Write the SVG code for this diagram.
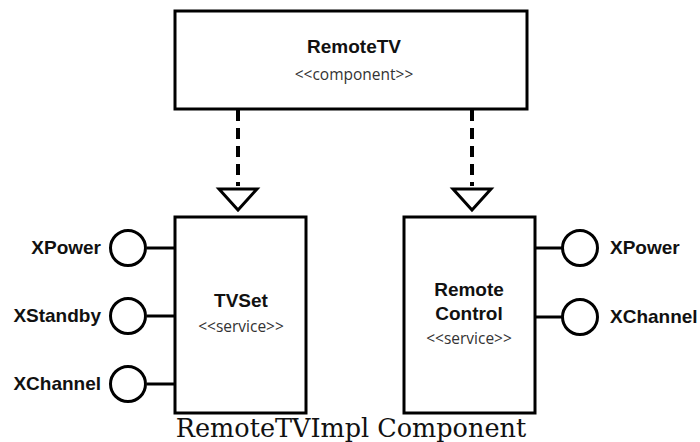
<svg xmlns="http://www.w3.org/2000/svg" width="700" height="442" viewBox="0 0 700 442">
<defs>
<style>
.box{fill:#fff;stroke:#000;stroke-width:3}
.t{font-family:"Liberation Sans",Arial,sans-serif;font-weight:bold;font-size:19px;fill:#111;text-anchor:middle}
.st{font-family:"Open Sans","DejaVu Sans",sans-serif;font-size:15.5px;fill:#333;text-anchor:middle}
.lbl{font-family:"Liberation Sans",Arial,sans-serif;font-weight:bold;font-size:19px;fill:#111}
.dash{stroke:#000;stroke-width:4;stroke-dasharray:11,7;fill:none}
.tri{fill:#fff;stroke:#000;stroke-width:3;stroke-linejoin:miter}
.ln{stroke:#000;stroke-width:3}
.lol{fill:#fff;stroke:#000;stroke-width:3}
.cap{font-family:"DejaVu Serif",serif;font-size:25.5px;fill:#111;text-anchor:middle}
</style>
</defs>
<rect width="700" height="442" fill="#fff"/>
<g id="connectors">
<line class="dash" x1="238" y1="110" x2="238" y2="186"/>
<polygon class="tri" points="219,189 257,189 238,210"/>
<line class="dash" x1="472" y1="110" x2="472" y2="186"/>
<polygon class="tri" points="453,189 491,189 472,210"/>
</g>
<g id="RemoteTV">
<rect class="box" x="175" y="11" width="352" height="98"/>
<text class="t" x="354" y="53">RemoteTV</text>
<text class="st" x="354" y="80">&lt;&lt;component&gt;&gt;</text>
</g>
<g id="TVSet">
<rect class="box" x="175" y="217" width="131" height="196"/>
<text class="t" x="241" y="307">TVSet</text>
<text class="st" x="241" y="332">&lt;&lt;service&gt;&gt;</text>
</g>
<g id="RemoteControl">
<rect class="box" x="404" y="217" width="131" height="196"/>
<text class="t" x="469" y="296">Remote</text>
<text class="t" x="469" y="320">Control</text>
<text class="st" x="469" y="344">&lt;&lt;service&gt;&gt;</text>
</g>
<g id="TVSet-XPower">
<line class="ln" x1="147" y1="248" x2="175" y2="248"/>
<circle class="lol" cx="128" cy="248" r="17.5"/>
<text class="lbl" x="101" y="254" text-anchor="end">XPower</text>
</g>
<g id="TVSet-XStandby">
<line class="ln" x1="147" y1="316" x2="175" y2="316"/>
<circle class="lol" cx="128" cy="316" r="17.5"/>
<text class="lbl" x="101" y="322" text-anchor="end">XStandby</text>
</g>
<g id="TVSet-XChannel">
<line class="ln" x1="147" y1="384" x2="175" y2="384"/>
<circle class="lol" cx="128" cy="384" r="17.5"/>
<text class="lbl" x="101" y="390" text-anchor="end">XChannel</text>
</g>
<g id="RC-XPower">
<line class="ln" x1="535" y1="248" x2="563" y2="248"/>
<circle class="lol" cx="580" cy="248" r="17.5"/>
<text class="lbl" x="610" y="254">XPower</text>
</g>
<g id="RC-XChannel">
<line class="ln" x1="535" y1="317" x2="563" y2="317"/>
<circle class="lol" cx="580" cy="317" r="17.5"/>
<text class="lbl" x="610" y="323">XChannel</text>
</g>
<text class="cap" x="351" y="437">RemoteTVImpl Component</text>
</svg>
